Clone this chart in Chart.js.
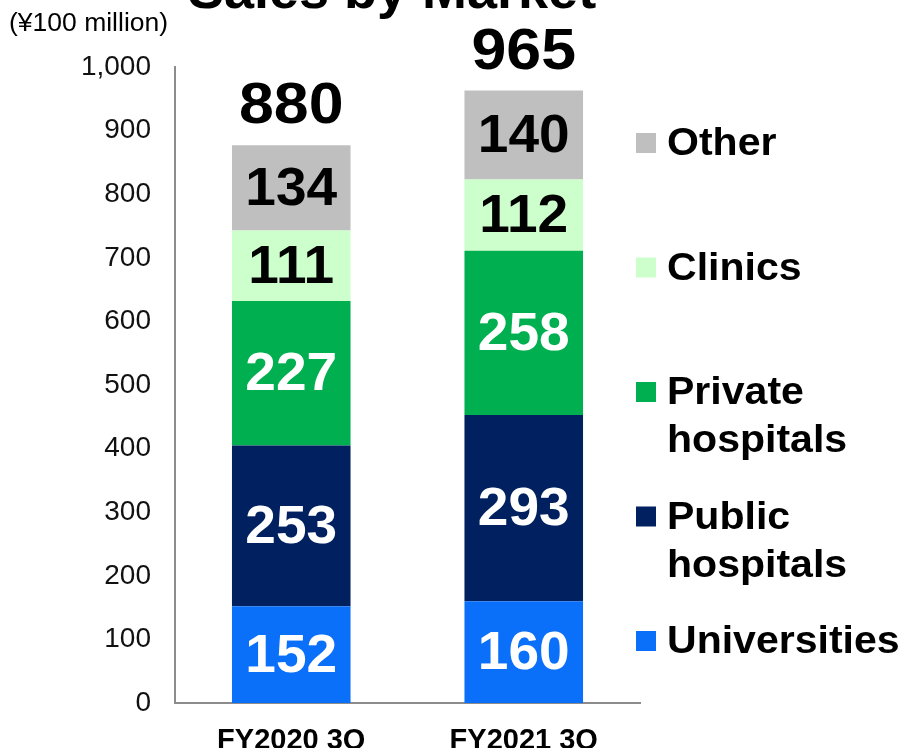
<!DOCTYPE html>
<html><head><meta charset="utf-8">
<script src="https://cdn.jsdelivr.net/npm/chart.js@4/dist/chart.umd.min.js"></script>
<style>html,body{margin:0;padding:0;background:#fff;overflow:hidden}#wrap{position:relative;width:906px;height:748px}</style>
</head><body><div id="wrap"><canvas id="c" width="906" height="748"></canvas></div>
<script>
const categories = ["FY2020 3Q", "FY2021 3Q"];
const seriesNames = ["Universities", "Public hospitals", "Private hospitals", "Clinics", "Other"];
const universities = [152, 160];
const publicHospitals = [253, 293];
const privateHospitals = [227, 258];
const clinics = [111, 112];
const other = [134, 140];
const totals = [880, 965];
const chartTitle = "Sales by Market";
const unitLabel = "(¥100 million)";

const FONT = '"Liberation Sans", Arial, Helvetica, sans-serif';
const colors = ["#0A70FA", "#002060", "#00B050", "#CCFFCC", "#BFBFBF"];
const labelColors = ["#fff", "#fff", "#fff", "#000", "#000"];
const seriesValues = [universities, publicHospitals, privateHospitals, clinics, other];

const datasets = seriesNames.map((name, i) => ({
  label: name,
  data: seriesValues[i],
  backgroundColor: colors[i],
  borderWidth: 0,
  barPercentage: 0.51,
  categoryPercentage: 1.0
}));

function stretchedText(ctx, text, x, y, sx) {
  ctx.save();
  ctx.translate(x, y);
  ctx.scale(sx, 1);
  ctx.fillText(text, 0, 0);
  ctx.restore();
}

const overlay = {
  id: 'overlay',
  afterDatasetsDraw(chart) {
    const ctx = chart.ctx;
    ctx.save();
    ctx.textAlign = 'center';
    ctx.textBaseline = 'middle';
    chart.data.datasets.forEach((ds, di) => {
      const meta = chart.getDatasetMeta(di);
      meta.data.forEach((bar, i) => {
        const cy = (bar.y + bar.base) / 2;
        ctx.font = 'bold 54px ' + FONT;
        ctx.fillStyle = labelColors[di];
        stretchedText(ctx, String(ds.data[i]), bar.x, cy + 2, 1.02);
      });
    });
    const topMeta = chart.getDatasetMeta(chart.data.datasets.length - 1);
    topMeta.data.forEach((bar, i) => {
      ctx.font = 'bold 58px ' + FONT;
      ctx.fillStyle = '#000';
      stretchedText(ctx, String(totals[i]), bar.x, bar.y - 38, 1.08);
    });
    ctx.restore();
  },
  afterDraw(chart) {
    const ctx = chart.ctx;
    ctx.save();
    ctx.font = 'bold 54px ' + FONT;
    ctx.fillStyle = '#000';
    ctx.textAlign = 'center';
    ctx.textBaseline = 'alphabetic';
    ctx.fillText(chartTitle, 392, 8);
    ctx.font = '26.5px ' + FONT;
    ctx.textAlign = 'left';
    ctx.textBaseline = 'middle';
    ctx.fillText(unitLabel, 9, 24);
    const n = chart.data.datasets.length;
    let y = 143;
    const step = 124.5;
    for (let k = n - 1; k >= 0; k--) {
      const ds = chart.data.datasets[k];
      ctx.fillStyle = ds.backgroundColor;
      ctx.fillRect(636, y - 10, 20, 20);
      const words = ds.label.split(' ');
      ctx.fillStyle = '#000';
      ctx.font = 'bold 38px ' + FONT;
      words.forEach((w, j) => {
        stretchedText(ctx, w, 667, y + 2 + j * 48, 1.08);
      });
      y += step;
    }
    ctx.restore();
  }
};

new Chart(document.getElementById('c'), {
  type: 'bar',
  data: { labels: categories, datasets },
  options: {
    responsive: false,
    animation: false,
    devicePixelRatio: 1,
    layout: { padding: { top: 67, right: 266, left: 0, bottom: 0 } },
    plugins: { legend: { display: false }, title: { display: false }, tooltip: { enabled: false } },
    scales: {
      x: {
        stacked: true,
        grid: { display: false, drawTicks: false },
        border: { display: true, color: '#8c8c8c', width: 2 },
        ticks: { color: '#000', font: { family: FONT, size: 29, weight: 'bold' }, padding: 21 },
        afterFit(scale) { scale.height = 45; }
      },
      y: {
        stacked: true,
        min: 0, max: 1000,
        grid: { display: false, drawTicks: false },
        border: { display: true, color: '#8c8c8c', width: 2 },
        ticks: { stepSize: 100, color: '#111', font: { family: FONT, size: 28 }, padding: 24 },
        afterFit(scale) { scale.width = 175; }
      }
    }
  },
  plugins: [overlay]
});
</script></body></html>
